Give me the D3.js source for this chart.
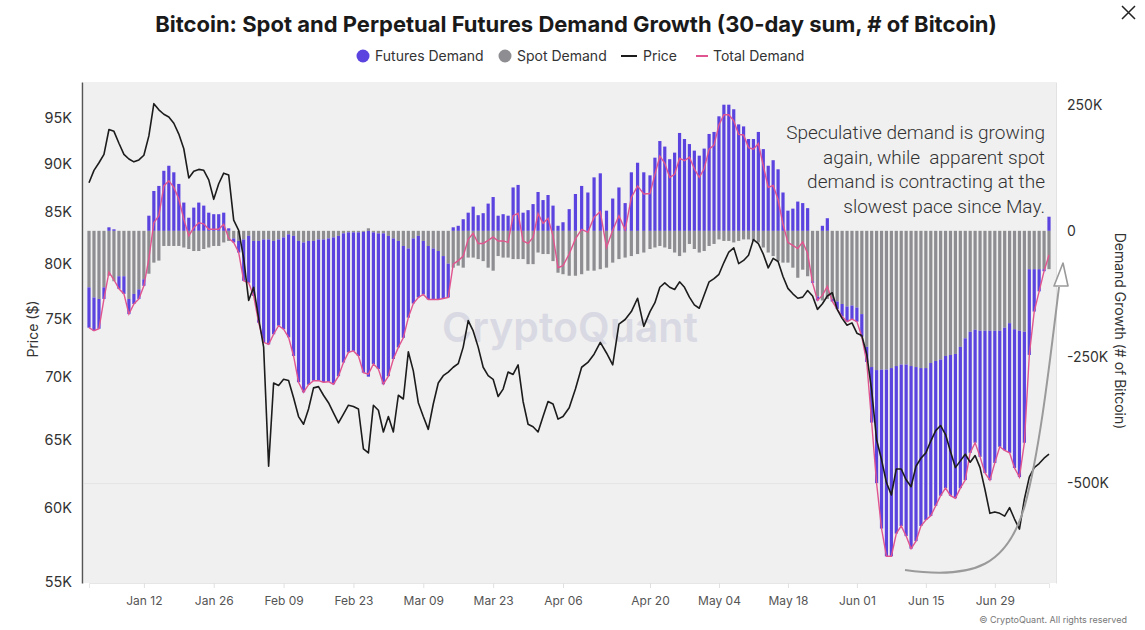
<!DOCTYPE html>
<html>
<head>
<meta charset="utf-8">
<script src="https://cdn.jsdelivr.net/npm/d3@7"></script>
<style>
  body { margin: 0; background: #fff; }
  svg { display: block; }
</style>
</head>
<body>
<svg id="chart" width="1145" height="630"></svg>
<script>
// daily values, Jan 1 -> Jul 10 (thousands of BTC, 30-day sums)
const futures = [
  -80, -66, -59, -23, 7, 3, -25, -35, -30, -20, -19, -13,
  30, 79, 89, 119, 129, 116, 93, 56, 26, 46, 56, 50, 36, 33, 33, 36, 5,
  -8, -23, -82, -93, -109, -162, -204, -208, -185, -171, -182, -204, -238, -280, -297, -285, -277, -280, -283,
  -284, -291, -278, -256, -238, -235, -245, -279, -289, -261, -269, -299, -278, -239, -211, -182, -137, -129, -122, -106, -106, -101, -96, -84, -67,
  7, 10, 23, 36, 48, 31, 35, 54, 67, 30, 33, 30, 86, 91, 36, 41, 53, 77, 61, 71, 50, 10,
  17, 43, 73, 89, 76, 106, 114, 40, 64, 86, 55, 116, 135, 116, 110,
  145, 178, 167, 142, 155, 194, 182, 172, 159, 149, 163, 192, 196, 227, 250, 250, 241, 211, 207, 182, 182, 196, 162, 129, 140, 122, 76, 40, 44, 58,
  55, 45, -3, -8, 10, 25, -5, -15, -25, -30, -27, -28, -45, -30,
  -110, -224, -315, -370, -373, -332, -320, -340, -362, -345, -313, -301, -303, -287, -270, -262, -279, -286, -280, -281, -240, -224, -250, -282, -296, -262, -230, -243, -257, -275, -290, -220, -170, -84, -44, -4, 28
];

const spot = [
  -112, -132, -135, -112, -89, -100, -90, -90, -135, -125, -116, -96,
  -85, -63, -59, -30, -30, -30, -30, -33, -36, -40, -40, -36, -33, -30, -30, -23, -20,
  -15, -20, -17, -10, -20, -20, -17, -17, -20, -17, -13, -7, -10, -20, -23, -20, -20, -17, -17,
  -15, -13, -10, -5, -3, -3, -3, -2, 5, -3, -5, -5, -10, -15, -20, -30, -35, -15, -10, -20, -30, -35, -40, -50, -65,
  -73, -69, -73, -53, -53, -56, -60, -73, -79, -50, -53, -53, -56, -56, -56, -66, -66, -43, -46, -46, -60, -83,
  -86, -89, -89, -86, -79, -79, -76, -73, -63, -56, -53, -50, -46, -43, -36,
  -33, -30, -33, -36, -43, -50, -43, -26, -36, -43, -40, -30, -26, -17, -20, -20, -23, -20, -17, -17, -20, -23, -33, -43, -50, -60, -63, -63, -73, -93,
  -77, -90, -100, -130, -138, -135, -135, -140, -145, -150, -148, -152, -165, -230,
  -270, -276, -275, -275, -272, -268, -265, -265, -268, -270, -272, -272, -262, -258, -255, -248, -246, -244, -230, -213, -200, -196, -198, -198, -198, -198, -198, -192, -183, -195, -198, -200, -76, -76, -76, -76, -76
];

// BTC price, thousands of USD
const price = [
  88.0, 89.3, 90.1, 91.0, 93.7, 93.5, 92.2, 91.0, 90.5, 90.2, 90.4, 90.9,
  93.0, 96.6, 95.9, 95.4, 95.1, 94.4, 93.2, 91.6, 88.5, 89.2, 89.4, 89.3, 88.3, 86.3, 87.9, 89.0, 88.8,
  84.2, 83.2, 80.5, 76.6, 77.8, 75.0, 72.5, 63.0, 69.5, 69.3, 69.8, 69.7, 68.3, 66.8, 66.2, 67.4, 69.1, 69.2, 68.5,
  67.9, 67.1, 66.3, 67.0, 67.7, 67.6, 67.4, 64.3, 64.0, 67.7, 67.3, 65.6, 66.8, 65.6, 68.5, 68.2, 72.1, 70.5, 67.9, 66.8, 65.8, 67.8, 69.5, 70.1, 70.4,
  70.8, 71.1, 72.5, 74.8, 73.9, 72.5, 70.8, 70.1, 69.8, 68.4, 69.0, 70.4, 70.2, 71.0, 68.0, 66.2, 66.0, 65.6, 66.8, 68.0, 67.8, 66.6,
  66.8, 67.5, 69.0, 70.8, 71.2, 71.9, 72.9, 72.0, 71.0, 74.5, 74.9, 75.6, 76.8, 74.3, 75.6,
  76.4, 77.8, 78.2, 77.8, 77.6, 78.3, 77.8, 76.9, 76.2, 75.9, 77.1, 78.3, 78.6, 79.0, 80.1, 81.1, 81.5, 80.0, 80.3, 80.8, 82.3, 81.9, 80.9, 79.6, 80.5, 80.2, 78.8, 77.7, 77.2, 76.8,
  76.9, 77.5, 77.0, 75.8, 76.3, 77.0, 77.3, 75.8, 75.0, 74.4, 74.6, 73.7, 73.5, 71.9,
  68.9, 65.0, 63.5, 61.8, 60.9, 62.8, 62.8, 62.0, 61.5, 63.0, 63.6, 64.0, 64.9, 65.7, 66.1, 65.4, 64.1, 62.9, 63.4, 63.9, 63.3, 63.8, 62.9, 61.3, 59.6, 59.7, 59.6, 59.4, 60.0, 59.2, 58.5, 60.6, 62.2, 62.9, 63.2, 63.6, 63.9
];

const startDate = new Date(2026, 0, 1);
const tickDates = ['2026-01-12', '2026-01-26', '2026-02-09', '2026-02-23', '2026-03-09', '2026-03-23',
  '2026-04-06', '2026-04-20', '2026-05-04', '2026-05-18', '2026-06-01', '2026-06-15', '2026-06-29'];
const priceTicks = [55, 60, 65, 70, 75, 80, 85, 90, 95];
const demandTicks = [250, 0, -250, -500];

const annotation = [
  'Speculative demand is growing',
  'again, while  apparent spot',
  'demand is contracting at the',
  'slowest pace since May.',
];

const colors = {
  futures: '#5a43df',
  spot: '#8e8e92',
  price: '#1c1c1c',
  total: '#e0558f',
};

const plot = {left: 84, right: 1056, top: 82, bottom: 583};

let svg = d3.select('#chart');

let data = futures.map((f, i) => ({
  date: d3.timeDay.offset(startDate, i),
  futures: f,
  spot: spot[i],
  total: f + spot[i],
  price: price[i],
}));

const parseDay = d3.timeParse('%Y-%m-%d');

// the x axis of the original is not evenly spaced around April, keep its tick positions
let x = d3.scaleTime()
  .domain([startDate, parseDay('2026-04-06'), parseDay('2026-04-20'), parseDay('2026-07-10')])
  .range([89, 563, 650, 1049]);

let yPrice = d3.scaleLog().domain([54.9, 99.1]).range([plot.bottom, plot.top]);
let yDemand = d3.scaleLinear().domain([-698, 295]).range([plot.bottom, plot.top]);

// title + legend
svg.append('text')
  .attr('x', 576).attr('y', 32)
  .attr('text-anchor', 'middle')
  .style('font', '700 22px Inter, sans-serif')
  .attr('fill', '#1a1a1a')
  .text('Bitcoin: Spot and Perpetual Futures Demand Growth (30-day sum, # of Bitcoin)');

let legend = svg.append('g').style('font', '400 14px Inter, sans-serif').attr('fill', '#333');
legend.append('circle').attr('cx', 363).attr('cy', 56).attr('r', 6.5).attr('fill', colors.futures);
legend.append('text').attr('x', 375).attr('y', 61).text('Futures Demand');
legend.append('circle').attr('cx', 505).attr('cy', 56).attr('r', 6.5).attr('fill', colors.spot);
legend.append('text').attr('x', 517).attr('y', 61).text('Spot Demand');
legend.append('line').attr('x1', 621).attr('x2', 637).attr('y1', 56).attr('y2', 56)
  .attr('stroke', colors.price).attr('stroke-width', 2);
legend.append('text').attr('x', 643).attr('y', 61).text('Price');
legend.append('line').attr('x1', 696).attr('x2', 708).attr('y1', 56).attr('y2', 56)
  .attr('stroke', colors.total).attr('stroke-width', 2);
legend.append('text').attr('x', 713).attr('y', 61).text('Total Demand');

// plot background
svg.append('rect')
  .attr('x', plot.left).attr('y', plot.top)
  .attr('width', plot.right - plot.left).attr('height', plot.bottom - plot.top)
  .attr('fill', '#f0f0f0');

// faint grid line
svg.append('g')
  .attr('transform', `translate(${plot.left},0)`)
  .call(d3.axisRight(yDemand).tickValues([-500]).tickSize(plot.right - plot.left).tickFormat(''))
  .call((g) => g.select('.domain').remove())
  .selectAll('line').attr('stroke', '#e4e4e4');

// watermark
svg.append('text')
  .attr('x', 570).attr('y', 342)
  .attr('text-anchor', 'middle')
  .style('font', '600 41px Inter, sans-serif')
  .attr('fill', '#d9d9e3')
  .text('CryptoQuant');

// stacked bars: spot sits next to zero, futures stacked beyond it
let series = d3.stack()
  .keys(['spot', 'futures'])
  .offset(d3.stackOffsetDiverging)(data);

let barW = 3.2;
svg.append('g').selectAll('g')
  .data(series)
  .join('g')
  .attr('fill', (s) => colors[s.key])
  .selectAll('rect')
  .data((s) => s)
  .join('rect')
  .attr('x', (d) => x(d.data.date) - barW / 2)
  .attr('width', barW)
  .attr('y', (d) => yDemand(Math.max(d[0], d[1])))
  .attr('height', (d) => Math.abs(yDemand(d[0]) - yDemand(d[1])));

// total demand line
svg.append('path')
  .datum(data)
  .attr('fill', 'none')
  .attr('stroke', colors.total)
  .attr('stroke-width', 1.4)
  .attr('d', d3.line().x((d) => x(d.date)).y((d) => yDemand(d.total)));

// price line
svg.append('path')
  .datum(data)
  .attr('fill', 'none')
  .attr('stroke', colors.price)
  .attr('stroke-width', 1.6)
  .attr('stroke-linejoin', 'round')
  .attr('d', d3.line().x((d) => x(d.date)).y((d) => yPrice(d.price)));

// left axis (log price)
let axisLeft = svg.append('g')
  .attr('transform', `translate(${plot.left - 2},0)`)
  .call(d3.axisLeft(yPrice).tickValues(priceTicks).tickSize(0).tickPadding(10).tickFormat((d) => d + 'K'));
axisLeft.select('.domain').attr('stroke', '#555').attr('stroke-width', 1.5);
axisLeft.selectAll('text').style('font', '400 14.5px Inter, sans-serif').attr('fill', '#333');

// right axis (demand)
let axisRight = svg.append('g')
  .attr('transform', `translate(${plot.right},0)`)
  .call(d3.axisRight(yDemand).tickValues(demandTicks).tickSize(0).tickPadding(11)
    .tickFormat((d) => d === 0 ? '0' : (d < 0 ? '-' + (-d) : d) + 'K'));
axisRight.select('.domain').attr('stroke', '#e2e2e2');
axisRight.selectAll('text').style('font', '400 14px Inter, sans-serif').attr('fill', '#333');

// bottom axis
let axisBottom = svg.append('g')
  .attr('transform', `translate(0,${plot.bottom})`)
  .call(d3.axisBottom(x).tickValues(tickDates.map(parseDay)).tickSize(5).tickPadding(8)
    .tickFormat(d3.timeFormat('%b %d')));
axisBottom.select('.domain').attr('stroke', '#e6e6e6');
axisBottom.selectAll('line').attr('stroke', '#e0e0e0');
axisBottom.selectAll('text').style('font', '400 12px Inter, sans-serif').attr('fill', '#555');

// axis titles
svg.append('text')
  .attr('transform', 'translate(38,329) rotate(-90)')
  .attr('text-anchor', 'middle')
  .style('font', '400 14px Inter, sans-serif').attr('fill', '#333')
  .text('Price ($)');
svg.append('text')
  .attr('transform', 'translate(1115,331) rotate(90)')
  .attr('text-anchor', 'middle')
  .style('font', '400 14px Inter, sans-serif').attr('fill', '#333')
  .text('Demand Growth (# of Bitcoin)');

// annotation
svg.append('text')
  .attr('text-anchor', 'end')
  .style('font', '300 19px Roboto, sans-serif')
  .style('white-space', 'pre')
  .attr('fill', '#333')
  .selectAll('tspan')
  .data(annotation)
  .join('tspan')
  .attr('x', 1045)
  .attr('y', (d, i) => 139 + i * 24.7)
  .text((d) => d);

// hand-drawn arrow
svg.append('path')
  .attr('d', 'M905,570 C975,580 1008,565 1025,505 C1040,450 1050,360 1059,287')
  .attr('fill', 'none').attr('stroke', '#9a9a9a').attr('stroke-width', 2);
svg.append('path')
  .attr('d', 'M1063,263 L1054,286 L1068,286 Z')
  .attr('fill', '#fff').attr('stroke', '#9a9a9a').attr('stroke-width', 1.6).attr('stroke-linejoin', 'round');

// footer + close mark
svg.append('text')
  .attr('x', 1127).attr('y', 623).attr('text-anchor', 'end')
  .style('font', '400 9px Inter, sans-serif').attr('fill', '#777')
  .text('© CryptoQuant. All rights reserved');
svg.append('path')
  .attr('d', 'M1122,6 L1135,19 M1135,6 L1122,19')
  .attr('stroke', '#222').attr('stroke-width', 1.5);
</script>
</body>
</html>
